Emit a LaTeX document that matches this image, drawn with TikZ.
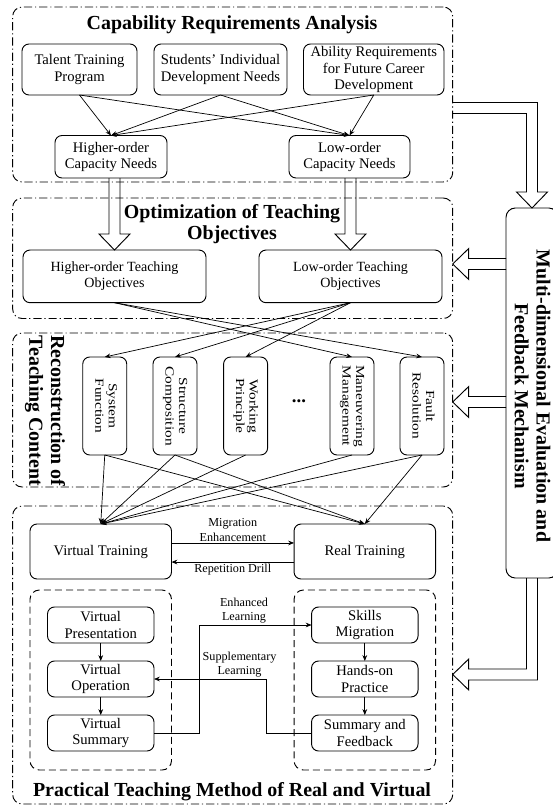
\documentclass[tikz,border=0pt]{standalone}
\usepackage{fontspec}
\usepackage{graphicx}
\setmainfont{Liberation Serif}
\usetikzlibrary{arrows.meta,positioning,calc}

\newcommand{\vlabel}[1]{\scalebox{1.25}[1]{\begin{tabular}{@{}c@{}}#1\end{tabular}}}

\tikzset{
  frame/.style={draw, rounded corners=8pt, line width=0.8pt, inner sep=0pt, outer sep=0pt,
    dash pattern=on 7pt off 2.5pt on 1pt off 2.5pt},
  group/.style={draw, rounded corners=8pt, line width=0.8pt, inner sep=0pt, outer sep=0pt,
    dash pattern=on 6pt off 3.5pt},
  box/.style={draw, rounded corners=6pt, line width=0.8pt, align=center, inner sep=1pt,
    outer sep=0pt, font=\fontsize{12.5}{14}\selectfont},
  vbox/.style={box, rotate=-90, inner sep=0pt, minimum width=2.94cm, minimum height=1.32cm,
    font=\fontsize{10.5}{11.5}\selectfont},
  title/.style={align=center, font=\fontsize{17}{18.5}\selectfont\bfseries},
  lbl/.style={align=center, inner sep=1pt, font=\fontsize{10.4}{12.5}\selectfont},
  arr/.style={-{Stealth[length=5pt,width=4pt]}, line width=0.6pt},
  hollow/.style={line width=0.8pt, line join=miter},
}

\begin{document}
\begin{tikzpicture}[x=0.03cm,y=-0.03cm]
\useasboundingbox (0,0) rectangle (552,808);

% dash-dot frames
\node[frame, minimum width=13.2cm, minimum height=5.25cm] (f1) at (232.7,94.5) {};
\node[frame, minimum width=13.2cm, minimum height=3.615cm] (f2) at (232.7,258.25) {};
\node[frame, minimum width=13.2cm, minimum height=4.62cm] (f3) at (232.7,410) {};
\node[frame, minimum width=13.2cm, minimum height=8.94cm] (f4) at (232.7,655) {};

% capability requirements
\node[title] (t1) at (232,25) {Capability Requirements Analysis};
\node[box, minimum width=3.45cm, minimum height=1.53cm] (tal) at (79.5,69.5) {Talent Training\\Program};
\node[box, minimum width=3.99cm, minimum height=1.53cm] (stu) at (220.5,69.5) {Students' Individual\\Development Needs};
\node[box, minimum width=4.215cm, minimum height=1.53cm] (abi) at (373.75,69.5) {Ability Requirements\\for Future Career\\Development};
\node[box, minimum width=3.36cm, minimum height=1.275cm] (hcn) at (111,156.75) {Higher-order\\Capacity Needs};
\node[box, minimum width=3.63cm, minimum height=1.275cm] (lcn) at (349.5,156.75) {Low-order\\Capacity Needs};

\foreach \s in {tal,stu,abi} {
  \draw[arr] (\s.south) -- (hcn.north);
  \draw[arr] (\s.south) -- (lcn.north);
}

% teaching objectives
\node[title] (t2) at (232,224) {Optimization of Teaching\\Objectives};
\node[box, font=\fontsize{12}{14}\selectfont, minimum width=5.49cm, minimum height=1.58cm] (hto) at (114.5,276.35) {Higher-order Teaching\\Objectives};
\node[box, font=\fontsize{12}{14}\selectfont, minimum width=5.49cm, minimum height=1.58cm] (lto) at (350.5,276.35) {Low-order Teaching\\Objectives};

\draw[hollow] ($(hcn.south -| hto.north)+(-5.5,0)$) -- ($(hto.north)+(-5.5,-16)$) -- ($(hto.north)+(-15.5,-16)$)
  -- (hto.north) -- ($(hto.north)+(15.5,-16)$) -- ($(hto.north)+(5.5,-16)$) -- ($(hcn.south -| hto.north)+(5.5,0)$);
\draw[hollow] ($(lcn.south -| lto.north)+(-5.5,0)$) -- ($(lto.north)+(-5.5,-16)$) -- ($(lto.north)+(-15.5,-16)$)
  -- (lto.north) -- ($(lto.north)+(15.5,-16)$) -- ($(lto.north)+(5.5,-16)$) -- ($(lcn.south -| lto.north)+(5.5,0)$);

% teaching content
\node[title, rotate=-90] (t3) at (45,411) {Reconstruction of\\Teaching Content};
\node[vbox] (sys) at (104.75,406) {\vlabel{System\\Function}};
\node[vbox] (str) at (175,406) {\vlabel{Structure\\Composition}};
\node[vbox] (wor) at (245.6,406) {\vlabel{Working\\Principle}};
\node[font=\fontsize{16}{16}\selectfont\bfseries] (dots) at (299,401) {...};
\node[vbox] (man) at (352,406) {\vlabel{Maneuvering\\Management}};
\node[vbox] (fau) at (422,406) {\vlabel{Fault\\Resolution}};

\foreach \c in {sys,str,wor} \draw[arr] (lto.south) -- (\c.west);
\foreach \c in {man,fau} \draw[arr] (hto.south) -- (\c.west);

% practical teaching
\node[box, minimum width=4.245cm, minimum height=1.65cm] (vt) at (100.75,551.5) {Virtual Training};
\node[box, minimum width=4.245cm, minimum height=1.65cm] (rt) at (364.8,551.5) {Real Training};

\foreach \c in {sys,str,wor,man,fau} \draw[arr] (\c.east) -- (vt.north);
\foreach \c in {sys,str,fau} \draw[arr] (\c.east) -- (rt.north);

\draw[arr] ([yshift=7.3pt]vt.east) -- ([yshift=7.3pt]rt.west)
  node[lbl, midway, above] {Migration\\Enhancement};
\draw[arr] ([yshift=-9pt]rt.west) -- ([yshift=-9pt]vt.east)
  node[lbl, midway, below] {Repetition Drill};

\node[group, minimum width=4.245cm, minimum height=5.4cm] (g1) at (100.75,680) {};
\node[group, minimum width=4.245cm, minimum height=5.4cm] (g2) at (364.8,680) {};

\node[box, minimum width=3.195cm, minimum height=1.08cm] (vp) at (100.75,625) {Virtual\\Presentation};
\node[box, minimum width=3.195cm, minimum height=1.08cm] (vo) at (100.75,679) {Virtual\\Operation};
\node[box, minimum width=3.195cm, minimum height=1.08cm] (vs) at (100.75,733) {Virtual\\Summary};
\node[box, minimum width=3.195cm, minimum height=1.08cm] (sm) at (364.8,625) {Skills\\Migration};
\node[box, minimum width=3.195cm, minimum height=1.08cm] (ho) at (364.8,679) {Hands-on\\Practice};
\node[box, minimum width=3.195cm, minimum height=1.08cm] (sf) at (364.8,733) {Summary and\\Feedback};

\draw[arr] (vp) -- (vo);
\draw[arr] (vo) -- (vs);
\draw[arr] (sm) -- (ho);
\draw[arr] (ho) -- (sf);

\draw[arr] (vs.east) -- ++(45,0) |- (sm.west)
  node[lbl, pos=0.7, above] {Enhanced\\Learning};
\draw[arr] (sf.west) -- ++(-45,0) |- (vo.east)
  node[lbl, pos=0.62, above] {Supplementary\\Learning};

\node[title] (t4) at (232,792) {Practical Teaching Method of Real and Virtual};

% evaluation and feedback
\node[box, rounded corners=8pt, minimum width=1.56cm, minimum height=11.1cm] (fb) at (532,393) {};
\node[title, rotate=-90] (fbt) at (532.5,396) {Multi-dimensional Evaluation and\\Feedback Mechanism};

\draw[hollow] ($(f1.east)+(0,8)$) -- ($(fb.north)+(5.5,-105.5)$) -- ($(fb.north)+(5.5,-16)$)
  -- ($(fb.north)+(15.5,-16)$) -- (fb.north) -- ($(fb.north)+(-15.5,-16)$) -- ($(fb.north)+(-5.5,-16)$)
  -- ($(fb.north)+(-5.5,-94.5)$) -- ($(f1.east)+(0,19)$);

\coordinate (a2) at ($(f2.east)+(0,5.75)$);
\draw[hollow] ($(a2 -| fb.west)+(0,-5.5)$) -- ($(a2)+(16,-5.5)$) -- ($(a2)+(16,-15.5)$) -- (a2)
  -- ($(a2)+(16,15.5)$) -- ($(a2)+(16,5.5)$) -- ($(a2 -| fb.west)+(0,5.5)$);

\coordinate (a3) at ($(f3.east)+(0,-8)$);
\draw[hollow] ($(a3 -| fb.west)+(0,-5.5)$) -- ($(a3)+(16,-5.5)$) -- ($(a3)+(16,-15.5)$) -- (a3)
  -- ($(a3)+(16,15.5)$) -- ($(a3)+(16,5.5)$) -- ($(a3 -| fb.west)+(0,5.5)$);

\coordinate (a4) at ($(f4.east)+(0,19.5)$);
\draw[hollow] ($(fb.south)+(-5.5,0)$) -- ($(a4 -| fb.south)+(-5.5,-5.5)$) -- ($(a4)+(16,-5.5)$)
  -- ($(a4)+(16,-15.5)$) -- (a4) -- ($(a4)+(16,15.5)$) -- ($(a4)+(16,5.5)$)
  -- ($(a4 -| fb.south)+(5.5,5.5)$) -- ($(fb.south)+(5.5,0)$);
\end{tikzpicture}
\end{document}
